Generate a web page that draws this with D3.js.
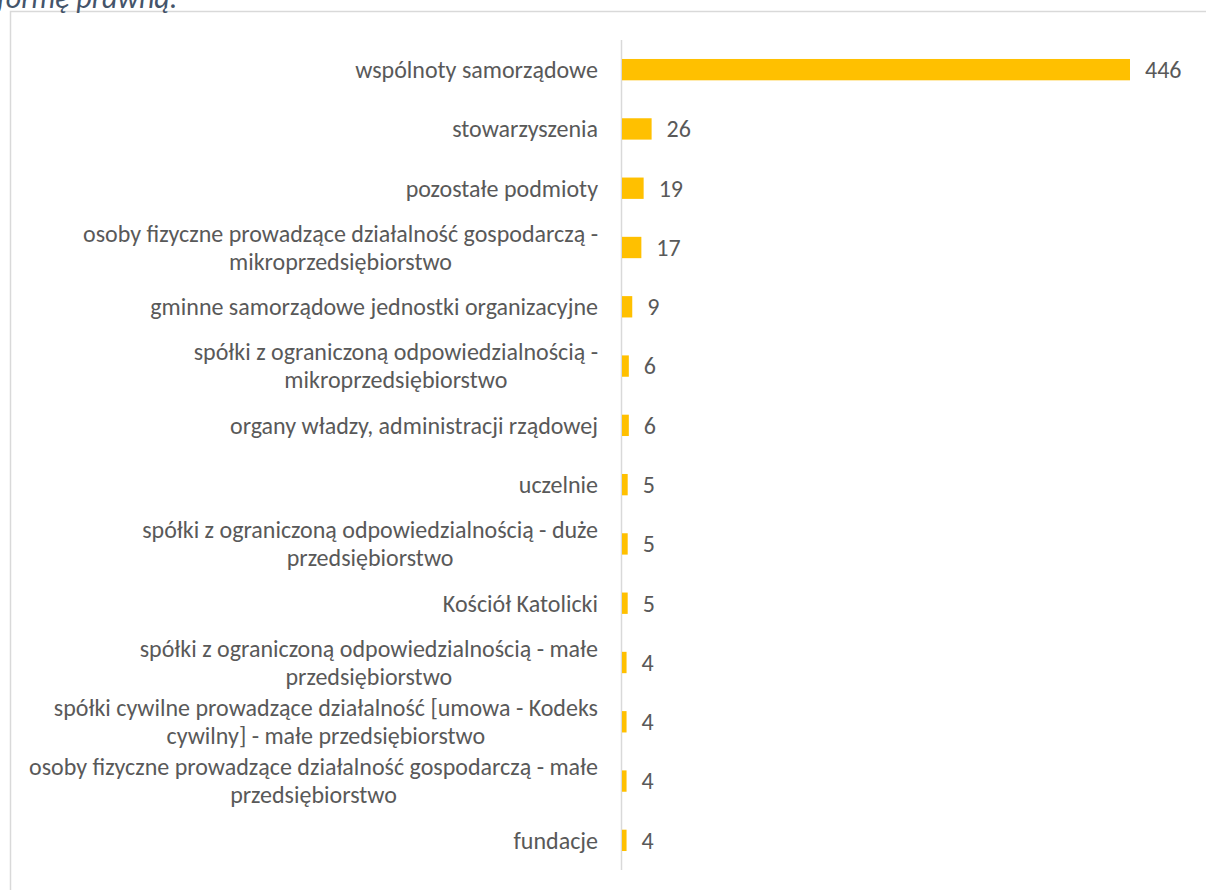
<!DOCTYPE html>
<html lang="pl">
<head>
<meta charset="UTF-8">
<title>Formy prawne</title>
<script src="https://cdnjs.cloudflare.com/ajax/libs/d3/7.8.5/d3.min.js"></script>
<style>
    body {
        margin: 0;
        background: #fff;
        overflow: hidden;
    }
    svg text {
        font-family: Carlito, "Open Sans", sans-serif;
    }
</style>
</head>
<body>
<svg id="chart" width="1206" height="890"></svg>
<script>
// categories (already split into lines the way the chart wraps them)
const categories = [
    ["wspólnoty samorządowe"],
    ["stowarzyszenia"],
    ["pozostałe podmioty"],
    ["osoby fizyczne prowadzące działalność gospodarczą -", "mikroprzedsiębiorstwo"],
    ["gminne samorządowe jednostki organizacyjne"],
    ["spółki z ograniczoną odpowiedzialnością -", "mikroprzedsiębiorstwo"],
    ["organy władzy, administracji rządowej"],
    ["uczelnie"],
    ["spółki z ograniczoną odpowiedzialnością - duże", "przedsiębiorstwo"],
    ["Kościół Katolicki"],
    ["spółki z ograniczoną odpowiedzialnością - małe", "przedsiębiorstwo"],
    ["spółki cywilne prowadzące działalność [umowa - Kodeks", "cywilny] - małe przedsiębiorstwo"],
    ["osoby fizyczne prowadzące działalność gospodarczą - małe", "przedsiębiorstwo"],
    ["fundacje"]
];
const values = [446, 26, 19, 17, 9, 6, 6, 5, 5, 5, 4, 4, 4, 4];
const titleText = "formę prawną.";

const svg = d3.select("#chart");

// frame of the chart area
svg.append("rect")
    .attr("x", 10.5).attr("y", 11.5)
    .attr("width", 1220).attr("height", 900)
    .attr("fill", "none")
    .attr("stroke", "#d9d9d9")
    .attr("stroke-width", 1.5);

// caption above the frame, cut off by the page edge
svg.append("text")
    .attr("x", -3).attr("y", 8)
    .attr("font-size", 30)
    .attr("font-style", "italic")
    .attr("fill", "#44546a")
    .text(titleText);

const idx = d3.range(values.length);

const x = d3.scaleLinear().domain([0, 446]).range([621, 1129]);
const y = d3.scaleBand().domain(idx).range([40, 870])
    .paddingInner(0.64).paddingOuter(0.32);

// vertical axis line
svg.append("line")
    .attr("x1", 621.5).attr("x2", 621.5)
    .attr("y1", 40).attr("y2", 870)
    .attr("stroke", "#d9d9d9")
    .attr("stroke-width", 1.5);

svg.append("g").selectAll("rect")
    .data(idx)
    .join("rect")
    .attr("x", x(0) + 1)
    .attr("y", i => y(i))
    .attr("width", i => x(values[i]) - x(0))
    .attr("height", y.bandwidth())
    .attr("fill", "#ffc000");

// value labels
svg.append("g").selectAll("text")
    .data(idx)
    .join("text")
    .attr("x", i => x(values[i]) + 16)
    .attr("y", i => y(i) + y.bandwidth() / 2)
    .attr("dy", "0.35em")
    .attr("font-size", 24)
    .attr("fill", "#595959")
    .text(i => values[i]);

// category labels, multi-line ones centred within a right-aligned block
const labelRight = 598;
const lineH = 28;
const lab = svg.append("g");
idx.forEach(i => {
    const lines = categories[i];
    const cy = y(i) + y.bandwidth() / 2;
    const g = lab.append("g");
    const texts = g.selectAll("text")
        .data(lines)
        .join("text")
        .attr("y", (d, k) => cy + (k - (lines.length - 1) / 2) * lineH)
        .attr("dy", "0.35em")
        .attr("font-size", 24)
        .attr("fill", "#595959")
        .attr("text-anchor", "middle")
        .text(d => d);
    const widths = texts.nodes().map(n => n.getComputedTextLength());
    const maxW = d3.max(widths);
    texts.attr("x", labelRight - maxW / 2);
});
</script>
</body>
</html>
